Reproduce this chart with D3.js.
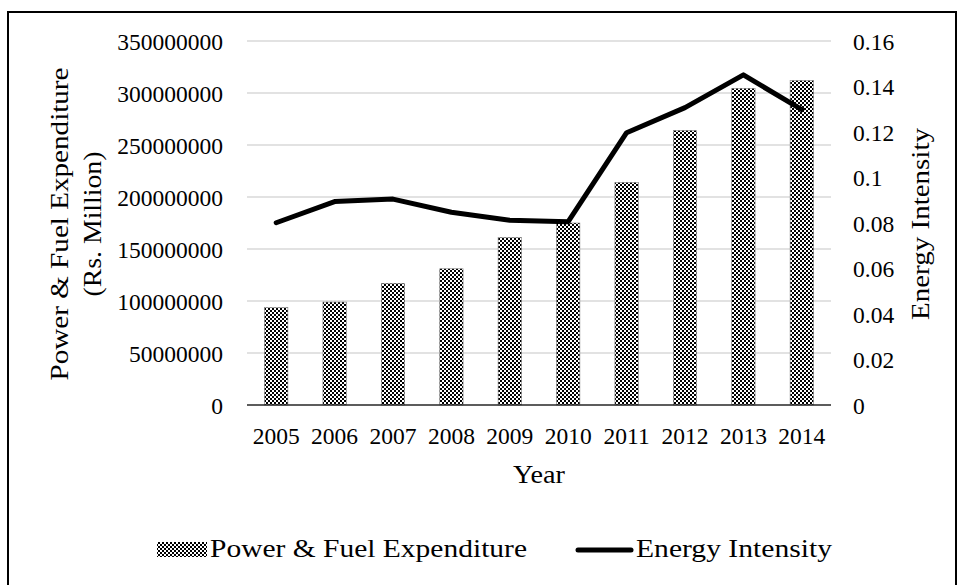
<!DOCTYPE html>
<html>
<head>
<meta charset="utf-8">
<script src="https://cdn.jsdelivr.net/npm/d3@7"></script>
<style>
  html, body { margin: 0; padding: 0; background: #fff; }
  svg text { font-family: "Liberation Serif", "Times New Roman", serif; fill: #000; }
</style>
</head>
<body>
<svg id="chart" width="958" height="585"></svg>
<script>
// Years on the category axis
const years = ["2005", "2006", "2007", "2008", "2009", "2010", "2011", "2012", "2013", "2014"];
// Power & fuel expenditure (Rs. Million), bars on the left axis
const expenditure = [93.6e6, 99e6, 117e6, 131e6, 161e6, 175e6, 214e6, 264e6, 304.5e6, 312e6];
// Energy intensity, line on the right axis
const intensity = [0.0801, 0.0894, 0.0905, 0.0847, 0.0812, 0.0806, 0.1197, 0.1307, 0.1451, 0.1298];
// Axis tick values
const leftTicks = [0, 50000000, 100000000, 150000000, 200000000, 250000000, 300000000, 350000000];
const rightTicks = [0, 0.02, 0.04, 0.06, 0.08, 0.1, 0.12, 0.14, 0.16];

const svg = d3.select("#chart");
const plot = { left: 247, right: 831, top: 41, bottom: 405 };
const tickFont = 23.5;

// Checkerboard fill for the bars
const defs = svg.append("defs");
const pat = defs.append("pattern")
  .attr("id", "checker")
  .attr("patternUnits", "userSpaceOnUse")
  .attr("width", 4).attr("height", 4);
pat.append("rect").attr("width", 4).attr("height", 4).attr("fill", "#fff");
pat.append("rect").attr("x", 0).attr("y", 0).attr("width", 2).attr("height", 2).attr("fill", "#000");
pat.append("rect").attr("x", 2).attr("y", 2).attr("width", 2).attr("height", 2).attr("fill", "#000");

// Outer frame
svg.append("rect")
  .attr("x", 8).attr("y", 12).attr("width", 948).attr("height", 600)
  .attr("fill", "none").attr("stroke", "#000").attr("stroke-width", 2);

const x = d3.scaleBand().domain(years).range([plot.left, plot.right])
  .paddingInner(0.6).paddingOuter(0.3);
const yL = d3.scaleLinear().domain([0, 350000000]).range([plot.bottom, plot.top]);
const yR = d3.scaleLinear().domain([0, 0.16]).range([plot.bottom, plot.top]);

// Gridlines
svg.append("g")
  .selectAll("line").data(leftTicks.slice(1)).join("line")
  .attr("x1", plot.left).attr("x2", plot.right)
  .attr("y1", d => yL(d)).attr("y2", d => yL(d))
  .attr("stroke", "#d9d9d9").attr("stroke-width", 1.5);

// Bars
svg.append("g")
  .selectAll("rect").data(expenditure).join("rect")
  .attr("x", (d, i) => x(years[i]))
  .attr("width", x.bandwidth())
  .attr("y", d => yL(d))
  .attr("height", d => yL(0) - yL(d))
  .attr("fill", "url(#checker)")
  .attr("stroke", "#7f7f7f").attr("stroke-width", 0.6);

// Category axis line
svg.append("line")
  .attr("x1", plot.left).attr("x2", plot.right)
  .attr("y1", plot.bottom).attr("y2", plot.bottom)
  .attr("stroke", "#262626").attr("stroke-width", 1.6);

// Left axis labels
const leftAxis = d3.axisLeft(yL).tickValues(leftTicks).tickSize(0).tickPadding(0)
  .tickFormat(d => String(d));
const gL = svg.append("g").attr("transform", "translate(223,0)").call(leftAxis);
gL.select(".domain").remove();
gL.selectAll("text").attr("font-size", tickFont).attr("font-family", "Liberation Serif")
  .attr("dy", "0.34em");

// Right axis labels
const rightAxis = d3.axisRight(yR).tickValues(rightTicks).tickSize(0).tickPadding(0)
  .tickFormat(d => String(+d.toFixed(2)));
const gR = svg.append("g").attr("transform", "translate(853,0)").call(rightAxis);
gR.select(".domain").remove();
gR.selectAll("text").attr("font-size", tickFont).attr("font-family", "Liberation Serif")
  .attr("dy", "0.34em");

// Category labels
const bottomAxis = d3.axisBottom(x).tickSize(0).tickPadding(0);
const gB = svg.append("g").attr("transform", `translate(0,${plot.bottom})`).call(bottomAxis);
gB.select(".domain").remove();
gB.selectAll("text").attr("font-size", tickFont).attr("font-family", "Liberation Serif")
  .attr("dy", null).attr("y", 38.5);

// Energy intensity line
const line = d3.line()
  .x((d, i) => x(years[i]) + x.bandwidth() / 2)
  .y(d => yR(d));
svg.append("path")
  .datum(intensity)
  .attr("d", line)
  .attr("fill", "none")
  .attr("stroke", "#000")
  .attr("stroke-width", 5)
  .attr("stroke-linejoin", "round")
  .attr("stroke-linecap", "round");

// Axis titles
svg.append("text")
  .attr("transform", "translate(68,224) rotate(-90)")
  .attr("text-anchor", "middle").attr("font-size", 25.5)
  .attr("textLength", 313).attr("lengthAdjust", "spacingAndGlyphs")
  .text("Power & Fuel Expenditure");
svg.append("text")
  .attr("transform", "translate(101,224) rotate(-90)")
  .attr("text-anchor", "middle").attr("font-size", 25.5)
  .attr("textLength", 145).attr("lengthAdjust", "spacingAndGlyphs")
  .text("(Rs. Million)");
svg.append("text")
  .attr("transform", "translate(929,224) rotate(-90)")
  .attr("text-anchor", "middle").attr("font-size", 25.5)
  .attr("textLength", 192).attr("lengthAdjust", "spacingAndGlyphs")
  .text("Energy Intensity");
svg.append("text")
  .attr("x", (plot.left + plot.right) / 2).attr("y", 483)
  .attr("text-anchor", "middle").attr("font-size", 26)
  .attr("textLength", 52).attr("lengthAdjust", "spacingAndGlyphs")
  .text("Year");

// Legend
const legend = svg.append("g");
legend.append("rect")
  .attr("x", 157).attr("y", 542).attr("width", 50).attr("height", 15)
  .attr("fill", "url(#checker)");
legend.append("text")
  .attr("x", 210).attr("y", 557).attr("font-size", 25.5)
  .attr("textLength", 317).attr("lengthAdjust", "spacingAndGlyphs")
  .text("Power & Fuel Expenditure");
legend.append("line")
  .attr("x1", 578).attr("x2", 631).attr("y1", 550).attr("y2", 550)
  .attr("stroke", "#000").attr("stroke-width", 5).attr("stroke-linecap", "round");
legend.append("text")
  .attr("x", 636).attr("y", 557).attr("font-size", 25.5)
  .attr("textLength", 196).attr("lengthAdjust", "spacingAndGlyphs")
  .text("Energy Intensity");
</script>
</body>
</html>
